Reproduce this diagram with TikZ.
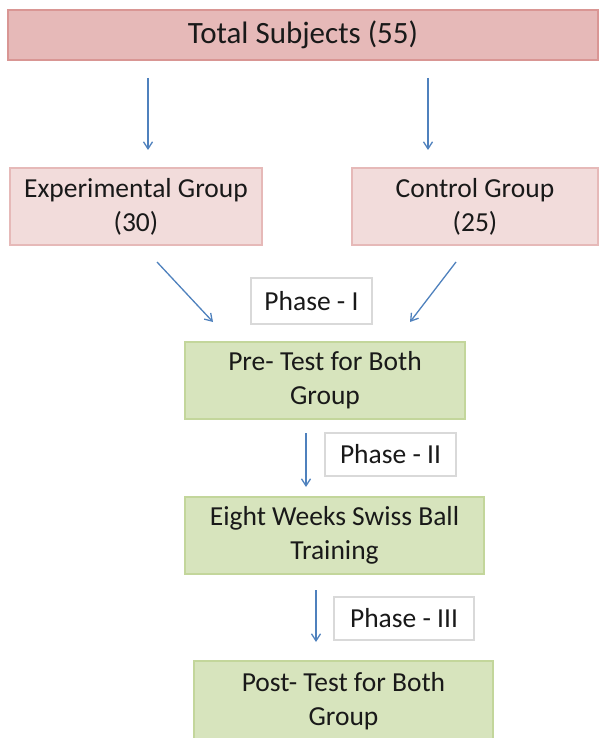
\documentclass[tikz,border=0pt]{standalone}
\usepackage{fontspec}
\setmainfont{Carlito}
\usetikzlibrary{arrows.meta}
\definecolor{redfill}{HTML}{E6B9B8}
\definecolor{redline}{HTML}{D99694}
\definecolor{pinkfill}{HTML}{F2DCDB}
\definecolor{pinkline}{HTML}{E6B9B8}
\definecolor{greenfill}{HTML}{D7E4BD}
\definecolor{greenline}{HTML}{C3D69B}
\definecolor{arrowblue}{HTML}{4F81BD}
\definecolor{phaseline}{HTML}{D9D9D9}
\begin{document}
\begin{tikzpicture}[x=1pt,y=-1pt,
  every node/.style={font=\fontsize{27.5}{34}\selectfont, align=center, inner sep=0pt, text=black!90},
  box/.style={draw, line width=1.2pt, minimum height=#1},
  phasebox/.style={draw=phaseline, fill=white, line width=1.2pt},
  conn/.style={draw=arrowblue, line width=1.3pt, -{Straight Barb[length=7pt,width=9pt]}}]
\useasboundingbox (0,0) rectangle (601,738);
% boxes
\node[box=50, draw=redline, fill=redfill, minimum width=590, font=\fontsize{31}{36}\selectfont] (total) at (303,35) {Total Subjects (55)};
\node[box=77, draw=pinkline, fill=pinkfill, minimum width=252] (exp) at (136,206.5) {Experimental Group\\(30)};
\node[box=77, draw=pinkline, fill=pinkfill, minimum width=246] (ctrl) at (475,206.5) {Control Group\\(25)};
\node[box=77, draw=greenline, fill=greenfill, minimum width=280] (pre) at (325,380.5) {Pre- Test for Both\\Group};
\node[box=77, draw=greenline, fill=greenfill, minimum width=299] (train) at (334.5,535.5) {Eight Weeks Swiss Ball\\Training};
\node[box=80, draw=greenline, fill=greenfill, minimum width=299] (post) at (343.5,701) {Post- Test for Both\\Group};
% phase labels
\node[phasebox, minimum width=121, minimum height=46] (p1) at (311.5,301) {Phase - I};
\node[phasebox, minimum width=131, minimum height=43] (p2) at (390.5,454.5) {Phase - II};
\node[phasebox, minimum width=140, minimum height=43] (p3) at (404,618.5) {Phase - III};
% connector end points
\coordinate (t1) at (148,78);  \coordinate (e1) at (148,150);
\coordinate (t2) at (428,78);  \coordinate (c1) at (428,150);
\coordinate (e2) at (157,262); \coordinate (pa) at (213,322);
\coordinate (c2) at (456,262); \coordinate (pb) at (410,322);
\coordinate (pr) at (306,433); \coordinate (tr) at (306,487);
\coordinate (tb) at (316,590); \coordinate (po) at (316,642);
\draw[conn] (t1) -- (e1);
\draw[conn] (t2) -- (c1);
\draw[conn] (e2) -- (pa);
\draw[conn] (c2) -- (pb);
\draw[conn] (pr) -- (tr);
\draw[conn] (tb) -- (po);
\end{tikzpicture}
\end{document}
